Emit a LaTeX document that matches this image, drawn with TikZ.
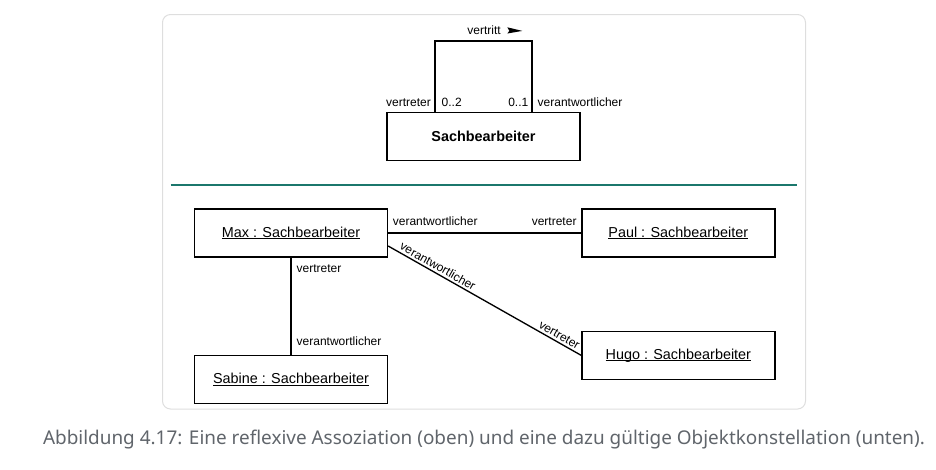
\documentclass[tikz,border=0pt]{standalone}
\usepackage{fontspec}
\setmainfont{Liberation Sans}
\newfontfamily\capfont{Noto Sans}
\usetikzlibrary{positioning}

\definecolor{rule teal}{HTML}{1B776C}
\definecolor{panel gray}{HTML}{DEDEDE}
\definecolor{caption gray}{HTML}{60656B}

\newcommand{\objline}[1]{\setbox0\hbox{#1}\rlap{\rule[-1.6pt]{\wd0}{0.6pt}}\box0}

\begin{document}
\begin{tikzpicture}[x=0.75pt,y=-0.75pt,line width=1pt,
    class node/.style={draw,rectangle,minimum width=144.75pt,minimum height=36pt,inner sep=0pt,font=\fontsize{10.8}{12}\selectfont\bfseries},
    obj node/.style={draw,rectangle,minimum width=144.75pt,minimum height=36pt,inner sep=0pt,font=\fontsize{10.8}{12}\selectfont},
    lbl/.style={inner sep=0pt,font=\fontsize{9}{10}\selectfont}]

    \useasboundingbox (0,0) rectangle (936,469);
    \draw[panel gray,line width=0.75pt,rounded corners=6pt] (162.5,14.5) rectangle (805.5,409);

    % class with reflexive association
    \node[class node] (cls) at (483.5,136.5) {Sachbearbeiter};
    \coordinate (loopl) at (435,41);
    \coordinate (loopr) at (532,41);
    \draw (cls.north -| loopl) -- (loopl) -- (loopr) -- (cls.north -| loopr);
    \node[lbl,anchor=base east] (rolel) at ([shift={(-3.5,-5.5)}]cls.north -| loopl) {vertreter};
    \node[lbl,anchor=base west] (multl) at ([shift={(6,-5.5)}]cls.north -| loopl) {0..2};
    \node[lbl,anchor=base east] (multr) at ([shift={(-3,-5.5)}]cls.north -| loopr) {0..1};
    \node[lbl,anchor=base west] (roler) at ([shift={(5,-5.5)}]cls.north -| loopr) {verantwortlicher};
    \node[lbl,anchor=base] (assoc) at (484,34.5) {vertritt};
    \fill (assoc.base east) ++(6,-7.2) -- ++(15,3.6) -- ++(-15,2.6) -- ++(2,-2.6) -- cycle;

    \draw[rule teal,line width=2pt] (170.5,185) -- (797,185);

    % object constellation
    \node[obj node] (max) at (291,233) {\objline{Max : Sachbearbeiter}};
    \node[obj node,right=144.75pt of max] (paul) {\objline{Paul : Sachbearbeiter}};
    \node[obj node,below=54.75pt of paul] (hugo) {\objline{Hugo : Sachbearbeiter}};
    \node[obj node,below=72.75pt of max] (sabine) {\objline{Sabine : Sachbearbeiter}};

    \draw (max.east) -- (paul.west);
    \node[lbl,anchor=base west] (mpa) at ([shift={(4,-8)}]max.east) {verantwortlicher};
    \node[lbl,anchor=base east] (mpb) at ([shift={(-4,-8)}]paul.west) {vertreter};

    \draw (max.south) -- (sabine.north);
    \node[lbl,anchor=base west] (msa) at ([shift={(5,15)}]max.south) {vertreter};
    \node[lbl,anchor=base west] (msb) at ([shift={(5,-9)}]sabine.north) {verantwortlicher};

    \coordinate (mh) at ([yshift=-9.75pt]max.east);
    \draw (mh) -- (hugo.west)
        node[lbl,pos=0.24,sloped,above=1.5pt] (mha) {verantwortlicher}
        node[lbl,pos=0.87,sloped,above=1.5pt] (mhb) {vertreter};

    \node[anchor=base,text=caption gray,font=\capfont\fontsize{14.2}{16}\selectfont] (cap) at (484,444)
        {Abbildung 4.17: Eine reflexive Assoziation (oben) und eine dazu gültige Objektkonstellation (unten).};
\end{tikzpicture}
\end{document}
